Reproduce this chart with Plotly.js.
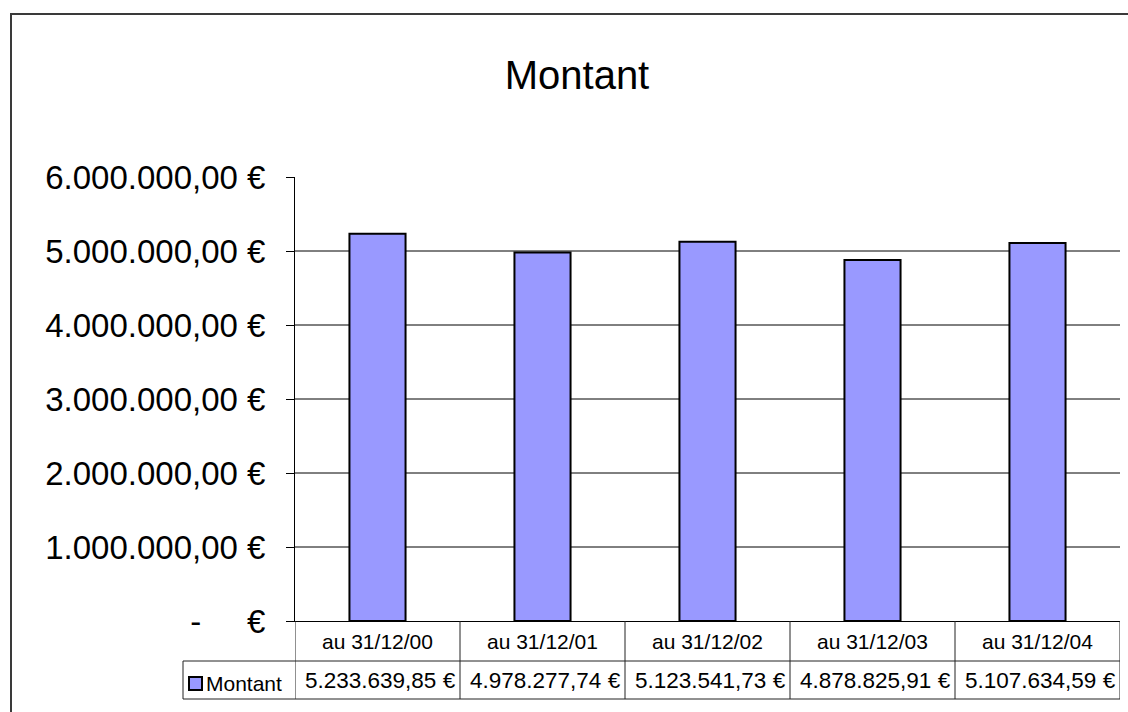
<!DOCTYPE html>
<html>
<head>
<meta charset="utf-8">
<script src="https://cdn.plot.ly/plotly-3.0.1.min.js"></script>
<style>
html,body{margin:0;padding:0;background:#fff;}
#chart{width:1128px;height:712px;}
</style>
</head>
<body>
<div id="chart"></div>
<script>
// ---- data ----
const categories = ["au 31/12/00", "au 31/12/01", "au 31/12/02", "au 31/12/03", "au 31/12/04"];
const montant = [5233639.85, 4978277.74, 5123541.73, 4878825.91, 5107634.59];
const seriesName = "Montant";
const yTickVals = [0, 1000000, 2000000, 3000000, 4000000, 5000000, 6000000];
const yTickText = ["-\u00a0\u00a0\u00a0\u00a0\u00a0€", "1.000.000,00 €", "2.000.000,00 €", "3.000.000,00 €", "4.000.000,00 €", "5.000.000,00 €", "6.000.000,00 €"];

function fmtEuro(v) {
  const parts = v.toFixed(2).split(".");
  const intPart = parts[0].replace(/\B(?=(\d{3})+(?!\d))/g, ".");
  return intPart + "," + parts[1] + " €";
}

const FONT = "Liberation Sans, Arial, sans-serif";
const idx = categories.map((c, i) => i);

// plot area in pixels (for paper conversions)
const L = 295, R = 1120, T = 177, B = 621;
const W = R - L, H = B - T;
const px = x => (x - L) / W;
const py = y => (B - y) / H;

const shapes = [];
// gridlines (not at top tick)
yTickVals.slice(1, -1).forEach(v => {
  shapes.push({type: "line", xref: "paper", yref: "y", x0: 0, x1: 1, y0: v, y1: v,
    line: {color: "#000", width: 1}, layer: "below"});
});
// table lines
const tableLine = {color: "#222", width: 1};
shapes.push({type: "line", xref: "paper", yref: "paper", x0: px(183), x1: 1, y0: py(661), y1: py(661), line: tableLine});
shapes.push({type: "line", xref: "paper", yref: "paper", x0: px(183), x1: 1, y0: py(699), y1: py(699), line: tableLine});
shapes.push({type: "line", xref: "paper", yref: "paper", x0: px(183), x1: px(183), y0: py(661), y1: py(699), line: tableLine});
for (let i = 0; i <= categories.length; i++) {
  shapes.push({type: "line", xref: "x", yref: "paper", x0: i - 0.5, x1: i - 0.5, y0: 0, y1: py(699), line: tableLine});
}
// legend key square
shapes.push({type: "rect", xref: "paper", yref: "paper", x0: px(189), x1: px(202), y0: py(690), y1: py(677),
  fillcolor: "#9999FF", line: {color: "#000", width: 2}});
// outer frame (extends beyond right and bottom edges)
shapes.push({type: "rect", xref: "paper", yref: "paper", x0: px(11), x1: px(1160), y0: py(760), y1: py(14),
  line: {color: "#3a3a3a", width: 2}, fillcolor: "rgba(0,0,0,0)"});

const annotations = [];
categories.forEach((c, i) => {
  annotations.push({xref: "x", yref: "paper", x: i, y: py(641), text: c, showarrow: false,
    xanchor: "center", yanchor: "middle", font: {family: FONT, size: 21, color: "#000"}});
  annotations.push({xref: "x", yref: "paper", x: i + 0.485, y: py(680), text: fmtEuro(montant[i]), showarrow: false,
    xanchor: "right", yanchor: "middle", font: {family: FONT, size: 22.5, color: "#000"}});
});
annotations.push({xref: "paper", yref: "paper", x: px(204), y: py(683), text: seriesName, showarrow: false,
  xanchor: "left", yanchor: "middle", font: {family: FONT, size: 21, color: "#000"}});

const trace = {
  type: "bar",
  x: idx,
  y: montant,
  name: seriesName,
  marker: {color: "#9999FF", line: {color: "#000", width: 2}},
  hoverinfo: "skip"
};

const layout = {
  width: 1128, height: 712,
  margin: {l: L, r: 1128 - R, t: T, b: 712 - B, pad: 0},
  paper_bgcolor: "#fff", plot_bgcolor: "rgba(0,0,0,0)",
  showlegend: false,
  bargap: 0.66,
  title: {text: "Montant", font: {family: FONT, size: 40, color: "#000"},
    x: 0.5115, xref: "container", xanchor: "center", y: 1 - 75 / 712, yref: "container", yanchor: "middle"},
  xaxis: {range: [-0.5, categories.length - 0.5], showticklabels: false, ticks: "", showgrid: false,
    zeroline: false, showline: true, linecolor: "#000", linewidth: 1, fixedrange: true},
  yaxis: {range: [0, 6000000], tickvals: yTickVals, ticktext: yTickText, ticks: "outside", ticklen: 8,
    tickcolor: "#000", showgrid: false, zeroline: false, showline: true, linecolor: "#000", linewidth: 1,
    ticklabelstandoff: 14, tickfont: {family: FONT, size: 33, color: "#000"}, fixedrange: true},
  shapes: shapes,
  annotations: annotations
};

Plotly.newPlot("chart", [trace], layout, {staticPlot: true, displayModeBar: false});
</script>
</body>
</html>
